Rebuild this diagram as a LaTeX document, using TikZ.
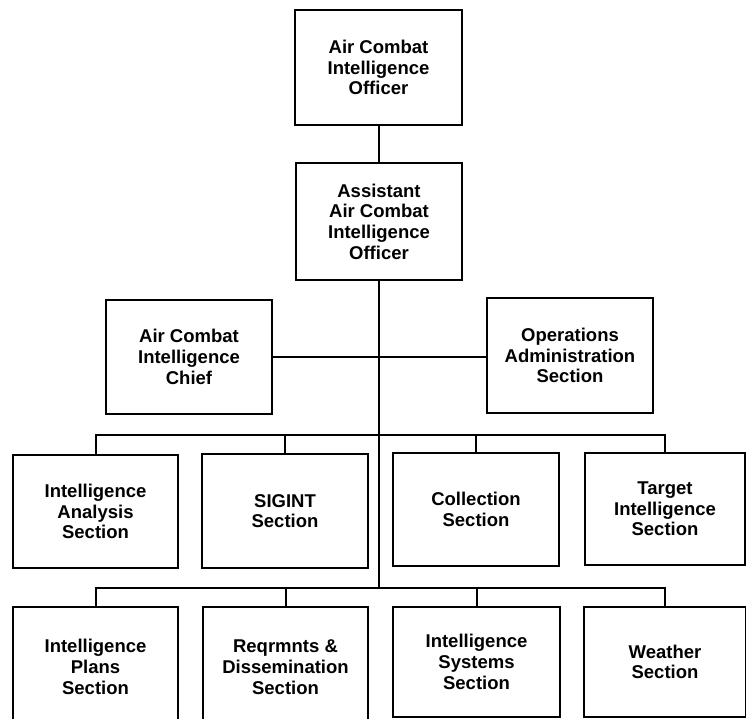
\documentclass[tikz,border=0pt]{standalone}
\usepackage{fontspec}
\setmainfont{Liberation Sans}
\begin{document}
\begin{tikzpicture}[x=1pt,y=-1pt,
  box/.style={draw=black,line width=2.4pt,rectangle,align=center,inner sep=0pt,
    font=\fontsize{18.5}{20.7}\selectfont\bfseries},
  conn/.style={draw=black,line width=2pt}]
\useasboundingbox (0,0) rectangle (746,719);
\clip (0,0) rectangle (746,719);
% top
\node[box,minimum width=167pt,minimum height=115pt] (top) at (378.5,67.5) {Air Combat\\Intelligence\\Officer};
\node[box,minimum width=166pt,minimum height=117pt] (assist) at (379,221.5) {Assistant\\Air Combat\\Intelligence\\Officer};
% middle
\node[box,minimum width=166pt,minimum height=114pt] (chief) at (189,357) {Air Combat\\Intelligence\\Chief};
\node[box,minimum width=166pt,minimum height=115pt] (ops) at (570,355.5) {Operations\\Administration\\Section};
% row 1
\node[box,minimum width=165pt,minimum height=113pt] (r1a) at (95.5,511.5) {Intelligence\\Analysis\\Section};
\node[box,minimum width=166pt,minimum height=114pt] (r1b) at (285,511) {SIGINT\\Section};
\node[box,minimum width=166pt,minimum height=113pt] (r1c) at (476,509.5) {Collection\\Section};
\node[box,minimum width=160pt,minimum height=112pt] (r1d) at (665,509) {Target\\Intelligence\\Section};
% row 2
\node[box,minimum width=165pt,minimum height=120pt] (r2a) at (95.5,667) {Intelligence\\Plans\\Section};
\node[box,minimum width=165pt,minimum height=120pt] (r2b) at (285.5,667) {Reqrmnts \&\\Dissemination\\Section};
\node[box,minimum width=167pt,minimum height=110pt] (r2c) at (476.5,662) {Intelligence\\Systems\\Section};
\node[box,minimum width=162pt,minimum height=110pt] (r2d) at (665,662) {Weather\\Section};
% coordinates
\coordinate (b1) at (379,435);
\coordinate (b2) at (379,588);
% connectors
\draw[conn] (top.south) -- (top.south |- assist.north);
\draw[conn] (assist.south) -- (b2);
\draw[conn] (chief.east) -- (chief.east -| ops.west);
\draw[conn] (r1a.north) -- (r1a.north |- b1) -- (r1d.north |- b1) -- (r1d.north);
\draw[conn] (r1b.north) -- (r1b.north |- b1);
\draw[conn] (r1c.north) -- (r1c.north |- b1);
\draw[conn] (r2a.north) -- (r2a.north |- b2) -- (r2d.north |- b2) -- (r2d.north);
\draw[conn] (r2b.north) -- (r2b.north |- b2);
\draw[conn] (r2c.north) -- (r2c.north |- b2);
\end{tikzpicture}
\end{document}
